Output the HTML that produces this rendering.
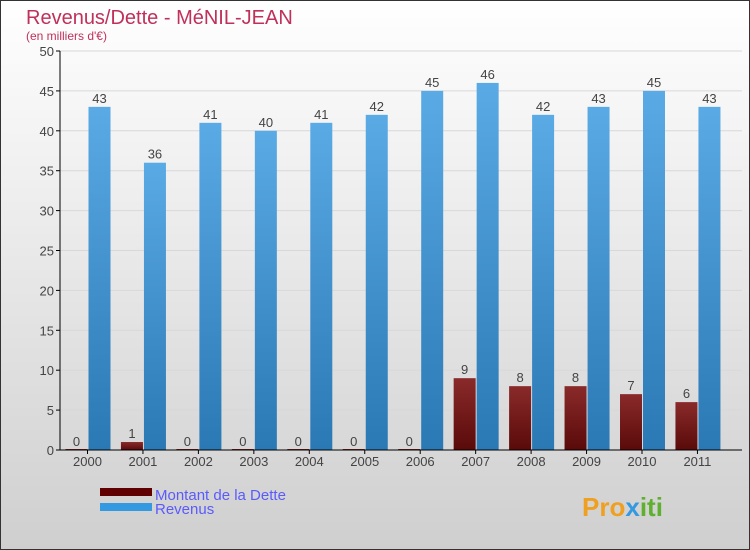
<!DOCTYPE html>
<html><head><meta charset="utf-8"><style>
body{margin:0;}
#wrap{width:750px;height:550px;position:relative;overflow:hidden;font-family:"Liberation Sans",sans-serif;}
</style></head><body>
<div id="wrap">
<svg id="svg" width="750" height="550" xmlns="http://www.w3.org/2000/svg">
<defs>
<linearGradient id="bg" x1="0" y1="0" x2="0" y2="1"><stop offset="0" stop-color="#ffffff"/><stop offset="1" stop-color="#cfcfcf"/></linearGradient>
<linearGradient id="gb" x1="0" y1="0" x2="0" y2="1"><stop offset="0" stop-color="#5aaae6"/><stop offset="1" stop-color="#2a78b4"/></linearGradient>
<linearGradient id="gr" x1="0" y1="0" x2="0" y2="1"><stop offset="0" stop-color="#8a2a2a"/><stop offset="1" stop-color="#5a0a0a"/></linearGradient>
</defs>
<rect x="0.5" y="0.5" width="749" height="549" fill="url(#bg)" stroke="#333"/>
<text x="26" y="24" font-size="20" fill="#c0305a">Revenus/Dette - MéNIL-JEAN</text>
<text x="26" y="40" font-size="12" fill="#c0305a">(en milliers d'€)</text>
<g id="plot"></g>
<rect x="100" y="488" width="52" height="8" fill="#600000"/>
<text x="155" y="500" font-size="15" fill="#5a5aff">Montant de la Dette</text>
<rect x="100" y="503" width="52" height="8" fill="#3399e0"/>
<text x="155" y="514" font-size="15" fill="#5a5aff">Revenus</text>
<text x="582" y="516" font-size="26" font-weight="bold" fill="#f0a020">Pro<tspan fill="#3399e0">x</tspan><tspan fill="#60b030">iti</tspan></text>
</svg>
</div>
<script>
const years=["2000","2001","2002","2003","2004","2005","2006","2007","2008","2009","2010","2011"];
const dette=[0,1,0,0,0,0,0,9,8,8,7,6];
const revenus=[43,36,41,40,41,42,45,46,42,43,45,43];
const yTicks=[0,5,10,15,20,25,30,35,40,45,50];
const NS="http://www.w3.org/2000/svg";
const g=document.getElementById('plot');
const y0=450,y1=51,vmax=50,x0=60,step=55.45,c0=87.5,bw=22;
function yS(v){return y0-(v/vmax)*(y0-y1);}
function xS(i){return c0+i*step;}
function mk(t,a){const e=document.createElementNS(NS,t);for(const k in a)e.setAttribute(k,a[k]);g.appendChild(e);return e;}
yTicks.forEach(t=>{
  const l=mk('line',{x1:x0,x2:742,y1:yS(t),y2:yS(t),stroke:'#d8d8d8'});
  
  
  const tk=mk('line',{x1:x0-4,x2:x0,y1:yS(t),y2:yS(t),stroke:'#000'});
  
  
  const tx=mk('text',{x:x0-6,y:yS(t)+5,'font-size':13,fill:'#444','text-anchor':'end'});
  tx.textContent=t;
  
  
});
years.forEach((yr,i)=>{
  const cx=xS(i);
  const rb=mk('rect',{x:cx-bw,y:yS(dette[i])-(dette[i]===0?1:0),width:bw,height:Math.max(1,y0-yS(dette[i])),fill:'url(#gr)'});
  
  
  const rl=mk('text',{x:cx-bw/2,y:yS(dette[i])-4,'font-size':13,fill:'#444','text-anchor':'middle'});
  rl.textContent=dette[i];
  
  
  const bb=mk('rect',{x:cx+1,y:yS(revenus[i]),width:bw,height:y0-yS(revenus[i]),fill:'url(#gb)'});
  
  
  const bl=mk('text',{x:cx+1+bw/2,y:yS(revenus[i])-4,'font-size':13,fill:'#444','text-anchor':'middle'});
  bl.textContent=revenus[i];
  
  
  const xt=mk('line',{x1:cx,x2:cx,y1:y0,y2:y0+4,stroke:'#000'});
  
  
  const xl=mk('text',{x:cx,y:466,'font-size':13,fill:'#444','text-anchor':'middle'});
  xl.textContent=yr;
  
  
});
const ax=mk('line',{x1:x0,x2:x0,y1:y1,y2:y0,stroke:'#000'});


const bx=mk('line',{x1:x0,x2:742,y1:y0,y2:y0,stroke:'#000'});


</script>
</body></html>
